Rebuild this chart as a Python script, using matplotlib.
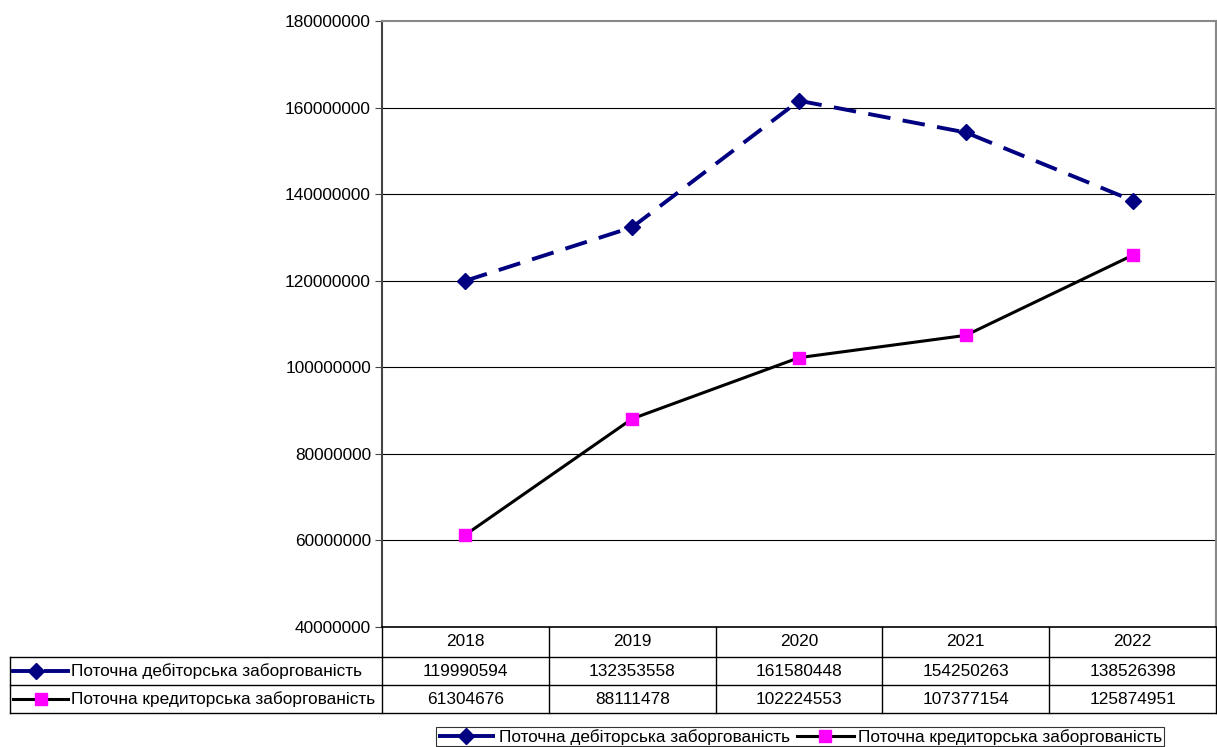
import matplotlib
matplotlib.use("Agg")
import matplotlib.pyplot as plt
from matplotlib.lines import Line2D

plt.rcParams['font.family'] = ['Liberation Sans', 'DejaVu Sans']

years = ['2018', '2019', '2020', '2021', '2022']
debit = [119990594, 132353558, 161580448, 154250263, 138526398]
credit = [61304676, 88111478, 102224553, 107377154, 125874951]
names = ['Поточна дебіторська заборгованість', 'Поточна кредиторська заборгованість']

FS = 12.4
W, H = 1217, 747
fig = plt.figure(figsize=(W / 100, H / 100), dpi=100)

def fx(x):
    return x / W

def fy(y):
    return 1 - y / H

L, R, T, B = 382, 1216, 21, 627
ax = fig.add_axes([fx(L), fy(B), fx(R) - fx(L), fy(T) - fy(B)])

x = list(range(len(years)))
s1, = ax.plot(x, debit, color='#000080', lw=2.8, linestyle=(0, (5.8, 3.2)),
              marker='D', markersize=8.5, markerfacecolor='#000080',
              markeredgecolor='#000080')
s2, = ax.plot(x, credit, color='black', lw=2.2, marker='s', markersize=9.3,
              markerfacecolor='#ff00ff', markeredgecolor='#ff00ff')

ax.set_xlim(-0.5, len(years) - 0.5)
ax.set_ylim(40000000, 180000000)
ticks = list(range(40000000, 180000001, 20000000))
ax.set_yticks(ticks)
ax.set_yticklabels([str(t) for t in ticks], fontsize=FS)
ax.set_xticks([])
for t in ticks[1:-1]:
    ax.axhline(t, color='black', lw=0.8, zorder=0)
ax.tick_params(axis='y', direction='out', length=5, width=0.8, color='#444444', pad=3)
ax.spines['left'].set_color('#444444')
ax.spines['left'].set_linewidth(1.5)
ax.spines['bottom'].set_color('black')
ax.spines['bottom'].set_linewidth(1.2)
for s in ['top', 'right']:
    ax.spines[s].set_color('#888888')
    ax.spines[s].set_linewidth(1.5)

# data table
tf = fig.transFigure
col_w = (R - L) / len(years)
rows = [B, 657, 685, 713]

def hline(x0, x1, y, lw=1.0):
    fig.add_artist(Line2D([fx(x0), fx(x1)], [fy(y), fy(y)], transform=tf,
                          color='black', lw=lw))

def vline(xx, y0, y1, lw=1.0):
    fig.add_artist(Line2D([fx(xx), fx(xx)], [fy(y0), fy(y1)], transform=tf,
                          color='black', lw=lw))

hline(10, R, rows[1])
hline(10, R, rows[2])
hline(10, R, rows[3])
vline(10, rows[1], rows[3])
for i in range(len(years) + 1):
    vline(L + i * col_w, B, rows[3])

for i, yr in enumerate(years):
    cx = L + (i + 0.5) * col_w
    fig.text(fx(cx), fy((rows[0] + rows[1]) / 2), yr, ha='center', va='center',
             fontsize=FS)
    fig.text(fx(cx), fy((rows[1] + rows[2]) / 2), str(debit[i]), ha='center',
             va='center', fontsize=FS)
    fig.text(fx(cx), fy((rows[2] + rows[3]) / 2), str(credit[i]), ha='center',
             va='center', fontsize=FS)

# row keys
for r, (name, line) in enumerate(zip(names, [s1, s2])):
    ym = fy((rows[r + 1] + rows[r + 2]) / 2)
    if r == 0:
        fig.add_artist(Line2D([fx(13), fx(36)], [ym, ym], transform=tf,
                              color='#000080', lw=2.8))
        fig.add_artist(Line2D([fx(46), fx(68)], [ym, ym], transform=tf,
                              color='#000080', lw=2.8))
        mx = 36
    else:
        fig.add_artist(Line2D([fx(13), fx(68)], [ym, ym], transform=tf,
                              color='black', lw=2.2))
        mx = 41
    fig.add_artist(Line2D([fx(mx)], [ym], transform=tf, lw=0,
                          marker=line.get_marker(), markersize=line.get_markersize(),
                          markerfacecolor=line.get_markerfacecolor(),
                          markeredgecolor=line.get_markeredgecolor()))
    fig.text(fx(71), ym, name, ha='left', va='center', fontsize=FS)

leg = fig.legend([s1, s2], names, loc='upper left',
                 bbox_to_anchor=(fx(436), fy(727)), ncol=2, fontsize=FS,
                 frameon=True, fancybox=False, handlelength=3.3,
                 handletextpad=0.25, columnspacing=0.4, borderpad=0.1,
                 borderaxespad=0)
leg.get_frame().set_edgecolor('black')
leg.get_frame().set_linewidth(0.8)

fig.savefig('out.png', dpi=100)
